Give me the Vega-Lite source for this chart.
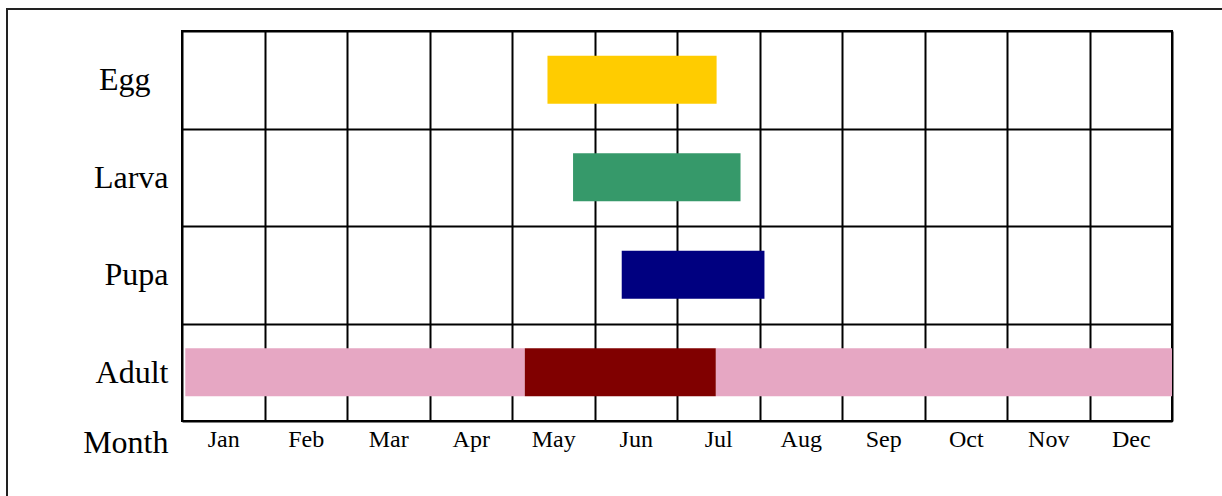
{
  "$schema": "https://vega.github.io/schema/vega-lite/v6.json",
  "autosize": "none",
  "width": 990,
  "height": 390,
  "padding": {"left": 182, "top": 31, "right": 50, "bottom": 75},
  "background": "white",
  "config": {
    "view": {"stroke": "black", "strokeWidth": 2},
    "font": "Liberation Serif"
  },
  "layer": [
    {
      "data": {"values": [{}]},
      "mark": {"type": "rect", "fill": null, "stroke": "#222", "strokeWidth": 2, "clip": false},
      "encoding": {
        "x": {"value": -175},
        "x2": {"value": 1080},
        "y": {"value": -22},
        "y2": {"value": 500}
      }
    },
    {
      "data": {
        "values": [
          {"stage": "Egg", "start": 4.43, "end": 6.48, "kind": "Egg"},
          {"stage": "Larva", "start": 4.74, "end": 6.77, "kind": "Larva"},
          {"stage": "Pupa", "start": 5.33, "end": 7.06, "kind": "Pupa"},
          {"stage": "Adult", "start": 0.04, "end": 4.155, "kind": "Adult"},
          {"stage": "Adult", "start": 6.47, "end": 12, "kind": "Adult"},
          {"stage": "Adult", "start": 4.155, "end": 6.47, "kind": "Adult (breeding)"}
        ]
      },
      "mark": {"type": "bar", "height": {"band": 0.49}, "cornerRadius": 0},
      "encoding": {
        "x": {
          "field": "start",
          "type": "quantitative",
          "scale": {"domain": [0, 12], "nice": false, "zero": false},
          "axis": {
            "values": [0, 1, 2, 3, 4, 5, 6, 7, 8, 9, 10, 11, 12],
            "grid": true,
            "gridColor": "black",
            "gridWidth": 2,
            "gridOpacity": 1,
            "domain": false,
            "ticks": false,
            "tickSize": 0,
            "labelExpr": "datum.value < 12 ? ['Jan','Feb','Mar','Apr','May','Jun','Jul','Aug','Sep','Oct','Nov','Dec'][datum.value] : ''",
            "labelOffset": 41.25,
            "labelAlign": "center",
            "labelBaseline": "alphabetic",
            "labelPadding": 25,
            "labelFlush": false,
            "labelOverlap": false,
            "labelFont": "Liberation Serif",
            "labelFontSize": 24,
            "labelColor": "black",
            "title": "Month",
            "titleFont": "Liberation Serif",
            "titleFontSize": 32,
            "titleFontWeight": "normal",
            "titleColor": "black",
            "titleAlign": "right",
            "titleAnchor": "start",
            "titleBaseline": "alphabetic",
            "titleX": -14,
            "titleY": 31
          }
        },
        "x2": {"field": "end"},
        "y": {
          "field": "stage",
          "type": "nominal",
          "sort": ["Egg", "Larva", "Pupa", "Adult"],
          "scale": {"paddingInner": 0, "paddingOuter": 0},
          "axis": {
            "title": null,
            "tickBand": "extent",
            "grid": true,
            "gridColor": "black",
            "gridWidth": 2,
            "gridOpacity": 1,
            "domain": false,
            "ticks": false,
            "tickSize": 0,
            "labelFont": "Liberation Serif",
            "labelFontSize": 32,
            "labelColor": "black",
            "labelPadding": {"condition": {"test": "datum.value === 'Egg'", "value": 32}, "value": 14}
          }
        },
        "color": {
          "field": "kind",
          "type": "nominal",
          "scale": {
            "domain": ["Egg", "Larva", "Pupa", "Adult", "Adult (breeding)"],
            "range": ["#FFCC00", "#36996A", "#000080", "#E6A7C3", "#800000"]
          },
          "legend": null
        }
      }
    }
  ]
}
